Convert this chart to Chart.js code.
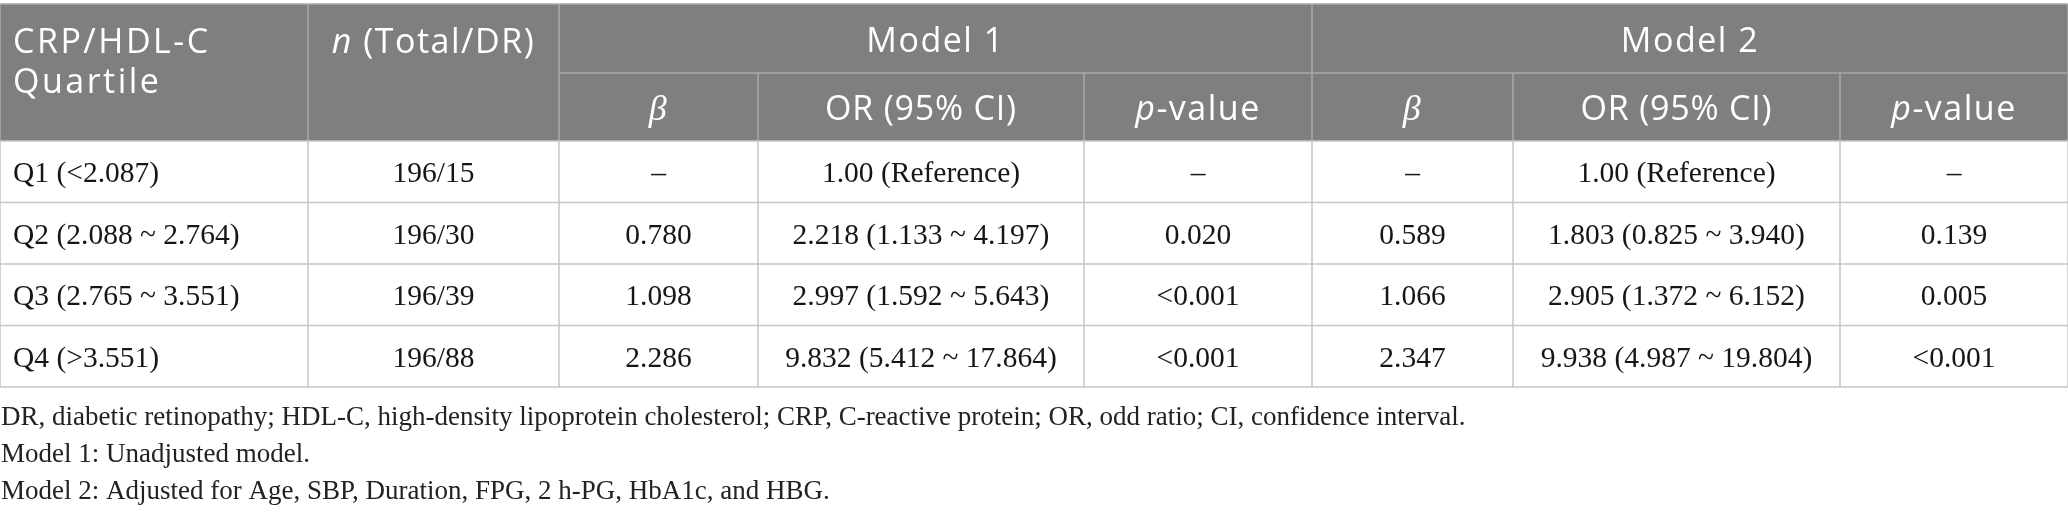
<!DOCTYPE html>
<html>
<head>
<meta charset="utf-8">
<style>
  html, body { margin: 0; padding: 0; background: #fff; }
  canvas { display: block; }
</style>
<script src="https://cdn.jsdelivr.net/npm/chart.js@4/dist/chart.umd.min.js"></script>
</head>
<body>
<canvas id="tableChart" width="2068" height="514"></canvas>
<script>
// table content
const quartiles = ['Q1 (<2.087)', 'Q2 (2.088 ~ 2.764)', 'Q3 (2.765 ~ 3.551)', 'Q4 (>3.551)'];
const nTotalDR = ['196/15', '196/30', '196/39', '196/88'];
const m1Beta = ['–', '0.780', '1.098', '2.286'];
const m1OR = ['1.00 (Reference)', '2.218 (1.133 ~ 4.197)', '2.997 (1.592 ~ 5.643)', '9.832 (5.412 ~ 17.864)'];
const m1P = ['–', '0.020', '<0.001', '<0.001'];
const m2Beta = ['–', '0.589', '1.066', '2.347'];
const m2OR = ['1.00 (Reference)', '1.803 (0.825 ~ 3.940)', '2.905 (1.372 ~ 6.152)', '9.938 (4.987 ~ 19.804)'];
const m2P = ['–', '0.139', '0.005', '<0.001'];
const modelNames = ['Model 1', 'Model 2'];
const footnotes = [
  'DR, diabetic retinopathy; HDL-C, high-density lipoprotein cholesterol; CRP, C-reactive protein; OR, odd ratio; CI, confidence interval.',
  'Model 1: Unadjusted model.',
  'Model 2: Adjusted for Age, SBP, Duration, FPG, 2 h-PG, HbA1c, and HBG.'
];

// layout (in table units, mapped through the chart scales)
const colEdges = [0, 308, 559, 758, 1084, 1312, 1513, 1840, 2068];
const headTop = 4, headMid = 73, headBottom = 141, rowH = 61.5;

const HEAD_BG = '#7f807e';
const HEAD_LINE = '#a8a8a8';
const BODY_LINE = '#c6c6c6';
const SANS = '"Open Sans", "Noto Sans", sans-serif';
const SERIF = '"Liberation Serif", "DejaVu Serif", serif';

function drawRuns(ctx, runs, cx, y, align) {
  // runs: [{text, font}] drawn side by side
  let total = 0;
  runs.forEach(r => { ctx.font = r.font; total += ctx.measureText(r.text).width; });
  let x = align === 'left' ? cx : cx - total / 2;
  ctx.textAlign = 'left';
  runs.forEach(r => {
    ctx.font = r.font;
    ctx.fillText(r.text, x, y);
    x += ctx.measureText(r.text).width;
  });
}

const tablePlugin = {
  id: 'tablePlugin',
  afterDraw(chart) {
    const ctx = chart.ctx;
    const xs = chart.scales.x, ys = chart.scales.y;
    const px = v => xs.getPixelForValue(v);
    const py = v => ys.getPixelForValue(v);
    const left = px(colEdges[0]), right = px(colEdges[colEdges.length - 1]);
    const nRows = quartiles.length;
    const bodyBottom = headBottom + rowH * nRows;

    ctx.save();

    // header background
    ctx.fillStyle = HEAD_BG;
    ctx.fillRect(left, py(headTop), right - left, py(headBottom) - py(headTop));

    // header lines
    ctx.strokeStyle = HEAD_LINE;
    ctx.lineWidth = 1.5;
    ctx.beginPath();
    ctx.moveTo(left, py(headTop)); ctx.lineTo(right, py(headTop));
    ctx.moveTo(px(colEdges[2]), py(headMid)); ctx.lineTo(right, py(headMid));
    [1, 2, 5].forEach(i => {
      ctx.moveTo(px(colEdges[i]), py(headTop)); ctx.lineTo(px(colEdges[i]), py(headBottom));
    });
    [3, 4, 6, 7].forEach(i => {
      ctx.moveTo(px(colEdges[i]), py(headMid)); ctx.lineTo(px(colEdges[i]), py(headBottom));
    });
    ctx.moveTo(left, py(headTop)); ctx.lineTo(left, py(headBottom));
    ctx.moveTo(right, py(headTop)); ctx.lineTo(right, py(headBottom));
    ctx.stroke();

    // body lines
    ctx.strokeStyle = BODY_LINE;
    ctx.beginPath();
    for (let r = 0; r <= nRows; r++) {
      const y = py(headBottom + rowH * r);
      ctx.moveTo(left, y); ctx.lineTo(right, y);
    }
    colEdges.forEach(c => {
      ctx.moveTo(px(c), py(headBottom)); ctx.lineTo(px(c), py(bodyBottom));
    });
    ctx.stroke();

    // header text
    ctx.fillStyle = '#ffffff';
    ctx.textBaseline = 'alphabetic';
    ctx.letterSpacing = '1.5px';
    const hFont = '34px ' + SANS;
    const hItal = 'italic 34px ' + SANS;
    const beta = 'italic 36px ' + SERIF;
    ctx.letterSpacing = '2.5px';
    drawRuns(ctx, [{ text: 'CRP/HDL-C', font: hFont }], px(13), py(53), 'left');
    drawRuns(ctx, [{ text: 'Quartile', font: hFont }], px(13), py(93), 'left');
    ctx.letterSpacing = '1.5px';
    drawRuns(ctx, [{ text: 'n', font: hItal }, { text: ' (Total/DR)', font: hFont }],
      (px(colEdges[1]) + px(colEdges[2])) / 2, py(53), 'center');
    modelNames.forEach((m, k) => {
      const a = colEdges[2 + k * 3], b = colEdges[5 + k * 3];
      drawRuns(ctx, [{ text: m, font: hFont }], (px(a) + px(b)) / 2, py(52), 'center');
      const sub = [
        [{ text: 'β', font: beta }],
        [{ text: 'OR (95% CI)', font: hFont }],
        [{ text: 'p', font: hItal }, { text: '-value', font: hFont }]
      ];
      sub.forEach((runs, j) => {
        const c0 = colEdges[2 + k * 3 + j], c1 = colEdges[3 + k * 3 + j];
        ctx.letterSpacing = j === 1 ? '0.8px' : '1.5px';
        drawRuns(ctx, runs, (px(c0) + px(c1)) / 2, py(120), 'center');
      });
    });

    // body text
    ctx.letterSpacing = '0px';
    ctx.fillStyle = '#161616';
    const bFont = '29.5px ' + SERIF;
    const cols = [nTotalDR, m1Beta, m1OR, m1P, m2Beta, m2OR, m2P];
    quartiles.forEach((q, r) => {
      const yb = py(headBottom + rowH * r + rowH / 2 + 10.5);
      drawRuns(ctx, [{ text: q, font: bFont }], px(13), yb, 'left');
      cols.forEach((col, j) => {
        drawRuns(ctx, [{ text: col[r], font: bFont }],
          (px(colEdges[j + 1]) + px(colEdges[j + 2])) / 2, yb, 'center');
      });
    });

    // footnotes
    ctx.fillStyle = '#222';
    footnotes.forEach((f, i) => {
      drawRuns(ctx, [{ text: f, font: '27px ' + SERIF }], px(1), py(425 + i * 37), 'left');
    });

    ctx.restore();
  }
};

const ctx = document.getElementById('tableChart').getContext('2d');
new Chart(ctx, {
  type: 'scatter',
  data: { datasets: [] },
  options: {
    responsive: false,
    animation: false,
    events: [],
    layout: { padding: 0 },
    plugins: { legend: { display: false }, tooltip: { enabled: false } },
    scales: {
      x: { type: 'linear', min: 0, max: 2068, display: false },
      y: { type: 'linear', min: 0, max: 514, reverse: true, display: false }
    }
  },
  plugins: [tablePlugin]
});
</script>
</body>
</html>
